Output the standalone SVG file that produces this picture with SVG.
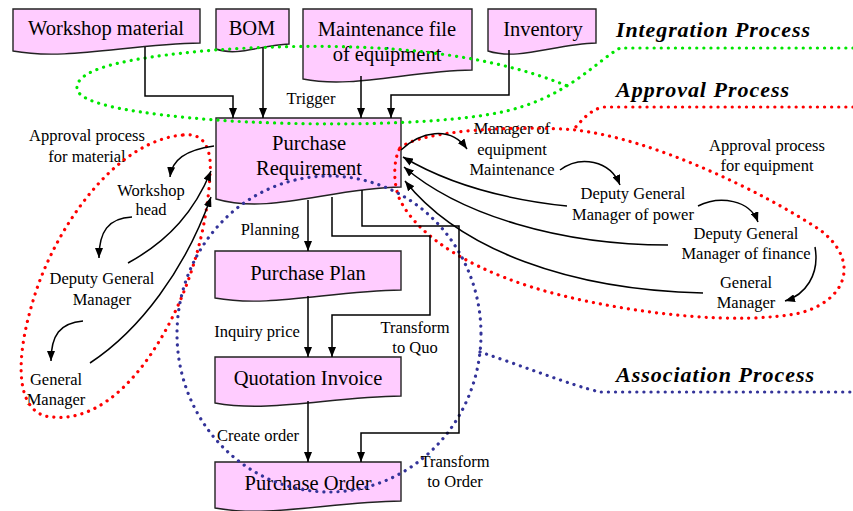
<svg xmlns="http://www.w3.org/2000/svg" width="853" height="511" viewBox="0 0 853 511" font-family="'Liberation Serif', serif">
<style>
.box{fill:#ffccff;stroke:#222;stroke-width:1.4}
.bt{font-size:20.5px;fill:#000;text-anchor:middle}
.lt{font-size:16.5px;fill:#000;text-anchor:middle}
.tt{font-size:22px;font-weight:bold;font-style:italic;fill:#000}
.ln{fill:none;stroke:#000;stroke-width:1.5}
.dot{fill:none;stroke-width:3.2;stroke-linecap:round;stroke-dasharray:0.1 7}
</style>
<defs>
<marker id="ah" markerUnits="userSpaceOnUse" markerWidth="10" markerHeight="8" refX="10" refY="4" orient="auto">
<path d="M0 0 L10 4 L0 8 z" fill="#000"/>
</marker>
</defs>

<g id="nodes" font-family="'Liberation Serif', serif">
<g id="workshop-material"><path class="box" d="M13 9 H200 V43 C129 44 67 61 13 51 Z"/><text class="bt" x="106" y="35">Workshop material</text></g>
<g id="bom"><path class="box" d="M216 9 H289 V44 C261 45 237 57 216 49 Z"/><text class="bt" x="252" y="35">BOM</text></g>
<g id="maintenance-file"><path class="box" d="M303 9 H472 V70 C408 71 352 89 303 79 Z"/><text class="bt" x="387" y="36">Maintenance file</text><text class="bt" x="387" y="61">of equipment</text></g>
<g id="inventory"><path class="box" d="M488 9 H596 V43 C555 44 519 61 488 51 Z"/><text class="bt" x="543" y="36">Inventory</text></g>
<g id="purchase-requirement"><path class="box" d="M216 118 H401 V187 C330 188 270 215 216 199 Z"/><text class="bt" x="309" y="150">Purchase</text><text class="bt" x="309" y="175">Requirement</text></g>
<g id="purchase-plan"><path class="box" d="M215 251 H401 V290 C330 291 269 308 215 298 Z"/><text class="bt" x="308" y="280">Purchase Plan</text></g>
<g id="quotation-invoice"><path class="box" d="M215 357 H401 V396 C330 397 269 413 215 403 Z"/><text class="bt" x="308" y="385">Quotation Invoice</text></g>
<g id="purchase-order"><path class="box" d="M215 462 H401 V501 C330 502 269 518 215 508 Z"/><text class="bt" x="308" y="490">Purchase Order</text></g>

<g id="approval-material-label"><text class="lt" x="87" y="141">Approval process</text><text class="lt" x="87" y="162">for material</text></g>
<g id="workshop-head"><text class="lt" x="151" y="196">Workshop</text><text class="lt" x="151" y="215">head</text></g>
<g id="deputy-gm-left"><text class="lt" x="102" y="284">Deputy General</text><text class="lt" x="102" y="305">Manager</text></g>
<g id="gm-left"><text class="lt" x="56" y="385">General</text><text class="lt" x="56" y="405">Manager</text></g>

<g id="manager-equipment"><text class="lt" x="512" y="134">Manager of</text><text class="lt" x="512" y="155">equipment</text><text class="lt" x="512" y="175">Maintenance</text></g>
<g id="approval-equipment-label"><text class="lt" x="767" y="151">Approval process</text><text class="lt" x="767" y="171">for equipment</text></g>
<g id="deputy-gm-power"><text class="lt" x="633" y="199">Deputy General</text><text class="lt" x="633" y="220">Manager of power</text></g>
<g id="deputy-gm-finance"><text class="lt" x="746" y="239">Deputy General</text><text class="lt" x="746" y="259">Manager of finance</text></g>
<g id="gm-right"><text class="lt" x="746" y="288">General</text><text class="lt" x="746" y="308">Manager</text></g>

<g id="titles">
<text class="tt" x="616" y="37" textLength="194">Integration Process</text>
<text class="tt" x="616" y="97" textLength="173">Approval Process</text>
<text class="tt" x="616" y="382" textLength="198">Association Process</text>
</g>
</g>

<g id="process-outlines">
<path class="dot" stroke="#00e600" d="M853 48 L620 48 C595 62 565 100 497 113 C430 126 300 126 215 120 C140 114 80 105 77 89 C75 70 120 58 215 50 C330 42 470 44 572 88"/>
<path class="dot" stroke="#ff0000" d="M183 135 C205 132 212 150 210 175 C207 230 190 290 160 340 C130 390 90 425 45 416 C10 405 18 340 40 280 C65 215 120 140 183 135 Z"/>
<path class="dot" stroke="#ff0000" d="M853 107 L603 107 C590 110 582 120 574 129"/>
<path class="dot" stroke="#ff0000" d="M400 148 C420 130 520 125 575 130 C650 138 760 190 820 230 C860 260 848 300 800 313 C740 325 640 315 560 295 C480 275 420 240 400 200 C393 185 393 160 400 148 Z"/>
<ellipse class="dot" stroke="#333399" cx="329" cy="334" rx="152" ry="158"/>
<path class="dot" stroke="#333399" d="M480 352 C520 365 570 385 600 392 L853 392"/>
</g>

<g id="connectors" font-family="'Liberation Serif', serif">
<path class="ln" marker-end="url(#ah)" d="M145 47 V96 H233 V118"/>
<path class="ln" marker-end="url(#ah)" d="M263 48 V118"/>
<path class="ln" marker-end="url(#ah)" d="M361 76 V118"/>
<path class="ln" marker-end="url(#ah)" d="M509 50 V95 H391 V118"/>
<text class="lt" x="311" y="104">Trigger</text>
<path class="ln" marker-end="url(#ah)" d="M308 200 V251"/>
<text class="lt" x="270" y="235">Planning</text>
<path class="ln" marker-end="url(#ah)" d="M332 197 V236 H430 V315 H332 V357"/>
<path class="ln" marker-end="url(#ah)" d="M362 190 V226 H459 V433 H361 V462"/>
<path class="ln" marker-end="url(#ah)" d="M308 296 V357"/>
<text class="lt" x="257" y="337">Inquiry price</text>
<text class="lt" x="415" y="333">Transform</text><text class="lt" x="415" y="353">to Quo</text>
<path class="ln" marker-end="url(#ah)" d="M308 401 V462"/>
<text class="lt" x="258" y="441">Create order</text>
<text class="lt" x="455" y="467">Transform</text><text class="lt" x="455" y="487">to Order</text>

<path class="ln" marker-end="url(#ah)" d="M214 146 C185 150 172 160 170 177"/>
<path class="ln" marker-end="url(#ah)" d="M132 217 C108 218 99 232 99 258"/>
<path class="ln" marker-end="url(#ah)" d="M128 263 C170 240 195 210 211 171"/>
<path class="ln" marker-end="url(#ah)" d="M83 321 C60 323 51 335 51 361"/>
<path class="ln" marker-end="url(#ah)" d="M90 363 C140 330 185 270 211 197"/>

<path class="ln" marker-end="url(#ah)" d="M401 150 C420 132 450 125 467 149"/>
<path class="ln" marker-end="url(#ah)" d="M560 170 C580 155 610 160 620 185"/>
<path class="ln" marker-end="url(#ah)" d="M698 206 C720 195 750 200 758 222"/>
<path class="ln" marker-end="url(#ah)" d="M815 247 C820 275 805 295 785 301"/>
<path class="ln" marker-end="url(#ah)" d="M567 206 C510 200 450 185 403 157"/>
<path class="ln" marker-end="url(#ah)" d="M668 245 C560 245 460 215 404 167"/>
<path class="ln" marker-end="url(#ah)" d="M703 293 C570 290 460 250 405 181"/>
</g>
</svg>
